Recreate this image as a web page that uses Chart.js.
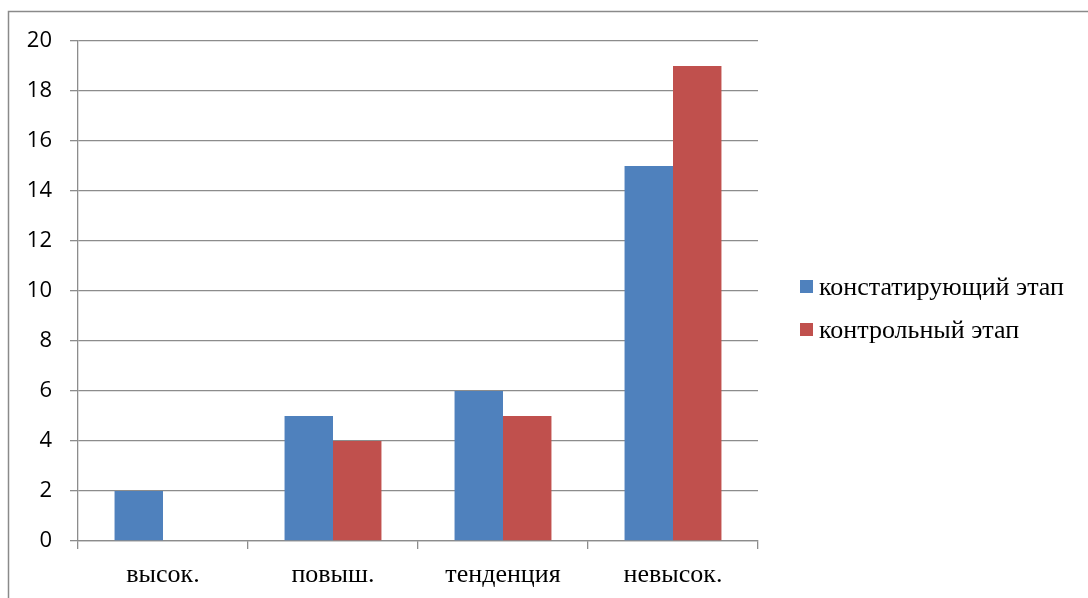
<!DOCTYPE html>
<html>
<head>
<meta charset="utf-8">
<script src="https://cdn.jsdelivr.net/npm/chart.js@4/dist/chart.umd.min.js"></script>
<style>
  html, body { margin: 0; padding: 0; background: #fff; }
  #wrap { width: 1088px; height: 598px; }
</style>
</head>
<body>
<div id="wrap"><canvas id="chart" width="1088" height="598"></canvas></div>
<script>
// Data
const categories = ['высок.', 'повыш.', 'тенденция', 'невысок.'];
const seriesNames = ['констатирующий этап', 'контрольный этап'];
const stageFirst = [2, 5, 6, 15];
const stageControl = [0, 4, 5, 19];
const yTicks = [0, 2, 4, 6, 8, 10, 12, 14, 16, 18, 20];

const colors = ['#4F81BD', '#C0504D'];
const gridColor = '#8c8c8c';
const serif = '"Liberation Serif", "Times New Roman", serif';

// Outer frame + legend drawn on the canvas
const framePlugin = {
    id: 'frameAndLegend',
    afterDraw(chart) {
        const ctx = chart.ctx;
        ctx.save();
        ctx.strokeStyle = '#8a8a8a';
        ctx.lineWidth = 1.5;
        ctx.strokeRect(8.5, 11.5, 1200, 700);

        ctx.font = '26px ' + serif;
        ctx.textBaseline = 'middle';
        ctx.textAlign = 'left';
        const rows = [288, 331];
        seriesNames.forEach((name, i) => {
            ctx.fillStyle = colors[i];
            ctx.fillRect(800, rows[i] - 8, 13, 13);
            ctx.fillStyle = '#000';
            ctx.fillText(name, 819, rows[i]);
        });
        ctx.restore();
    }
};

new Chart(document.getElementById('chart').getContext('2d'), {
    type: 'bar',
    data: {
        labels: categories,
        datasets: [
            { label: seriesNames[0], data: stageFirst, backgroundColor: colors[0] },
            { label: seriesNames[1], data: stageControl, backgroundColor: colors[1] }
        ]
    },
    options: {
        responsive: false,
        animation: false,
        datasets: { bar: { categoryPercentage: 0.57, barPercentage: 1.0 } },
        layout: { padding: { left: 0, top: 41, right: 330, bottom: 0 } },
        plugins: { legend: { display: false }, tooltip: { enabled: false } },
        scales: {
            x: {
                grid: { drawOnChartArea: false, offset: true, tickLength: 8, color: gridColor, lineWidth: 1.3 },
                border: { color: gridColor, width: 1.3 },
                ticks: { color: '#000', padding: 11, font: { family: serif, size: 26 } },
                afterFit(scale) { scale.height = 57; }
            },
            y: {
                min: 0,
                max: 20,
                afterBuildTicks(scale) { scale.ticks = yTicks.map(v => ({ value: v })); },
                grid: { color: gridColor, lineWidth: 1.3, tickLength: 8 },
                border: { color: gridColor, width: 1.3 },
                ticks: { color: '#000', padding: 18, font: { family: '"Open Sans", "Noto Sans", sans-serif', size: 22 } },
                afterFit(scale) { scale.width = 78; }
            }
        }
    },
    plugins: [framePlugin]
});
</script>
</body>
</html>
